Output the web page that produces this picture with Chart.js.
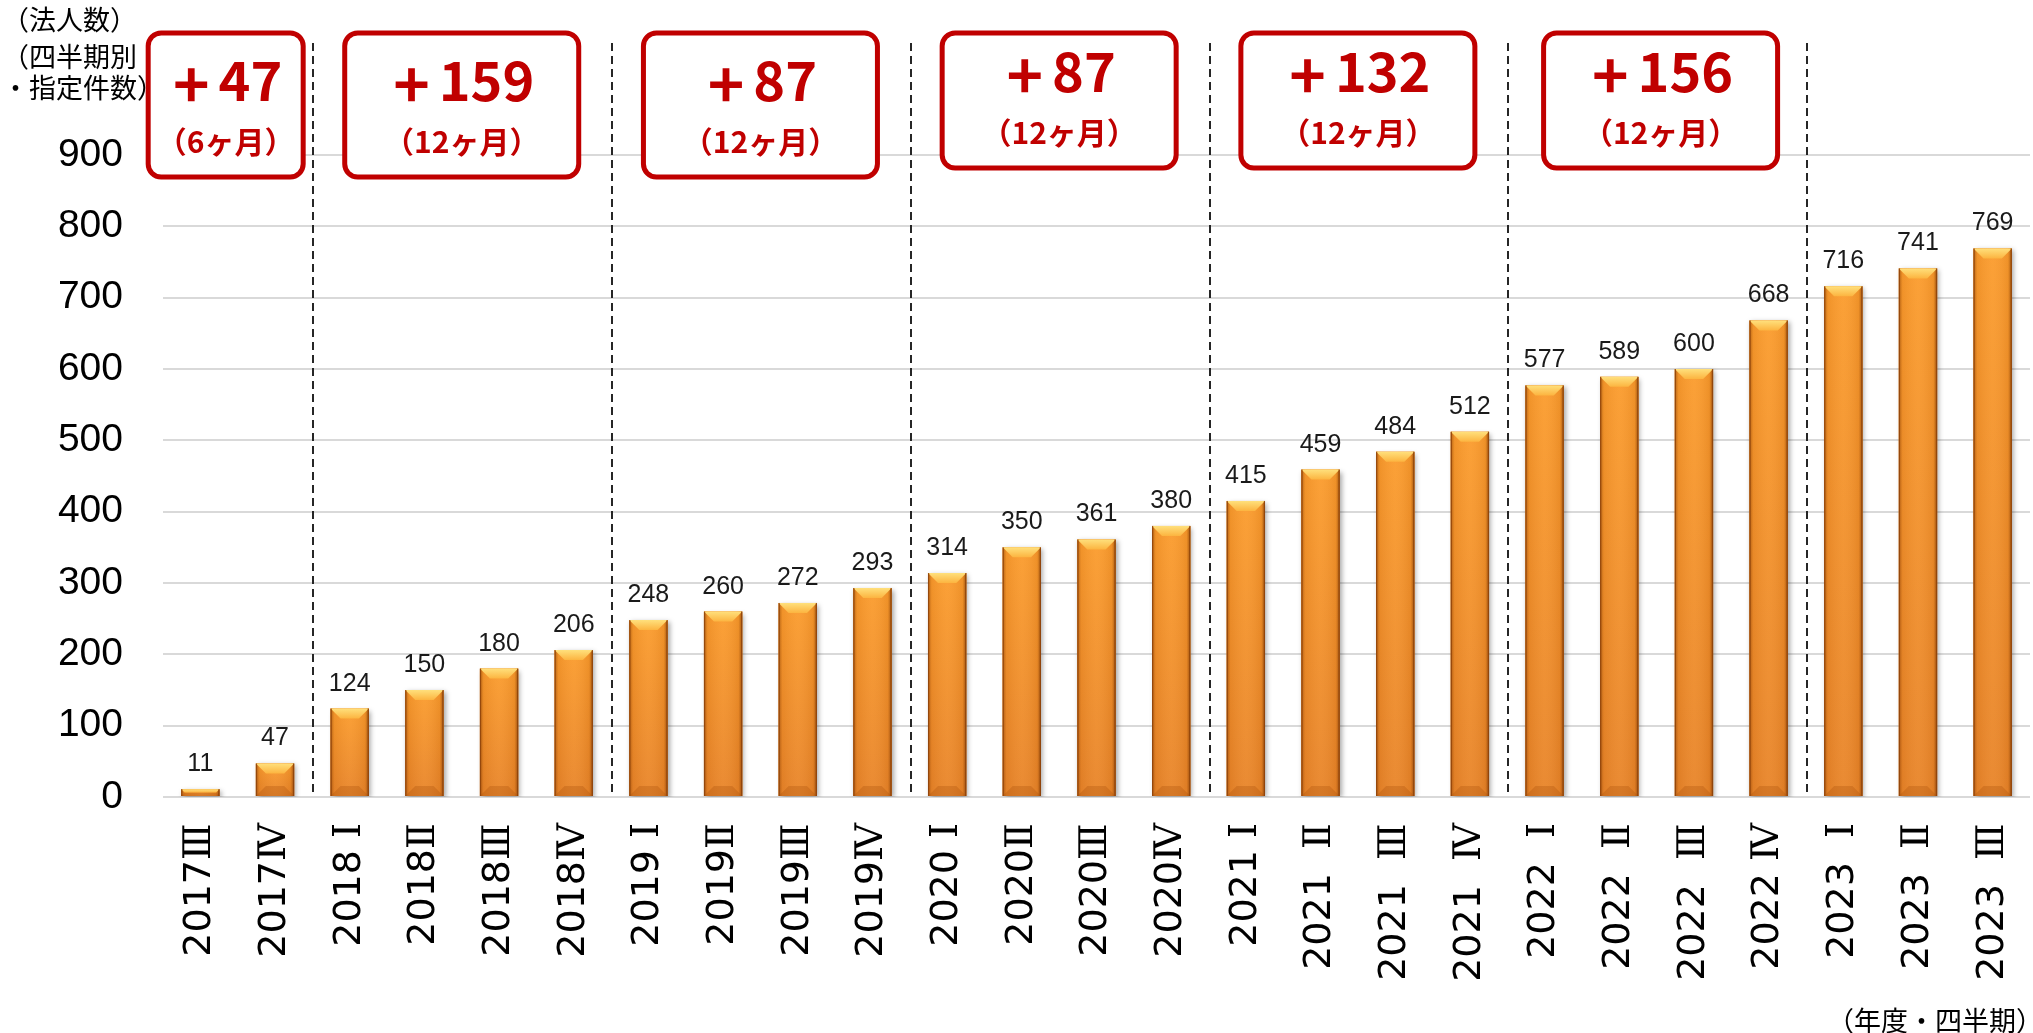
<!DOCTYPE html>
<html><head><meta charset="utf-8">
<style>
@font-face { font-family: "RomanNum"; src: local("DejaVu Serif"), local("DejaVuSerif"); unicode-range: U+2160-2188; }
html,body{margin:0;padding:0;background:#fff;}
#wrap{width:2033px;height:1033px;position:relative;}
</style>
<script src="https://cdn.jsdelivr.net/npm/chart.js@4.4.1/dist/chart.umd.min.js"></script>
</head><body><div id="wrap"><canvas id="c" width="2033" height="1033"></canvas></div>
<script>
// ---- data ----
const categories = ["2017Ⅲ","2017Ⅳ","2018 Ⅰ","2018Ⅱ","2018Ⅲ","2018Ⅳ","2019 Ⅰ","2019Ⅱ","2019Ⅲ","2019Ⅳ",
  "2020 Ⅰ","2020Ⅱ","2020Ⅲ","2020Ⅳ","2021 Ⅰ","2021  Ⅱ","2021  Ⅲ","2021  Ⅳ",
  "2022  Ⅰ","2022  Ⅱ","2022  Ⅲ","2022 Ⅳ","2023  Ⅰ","2023  Ⅱ","2023  Ⅲ"];
const values = [11,47,124,150,180,206,248,260,272,293,314,350,361,380,415,459,484,512,577,589,600,668,716,741,769];
const yTickValues = [0,100,200,300,400,500,600,700,800,900];
const groupFirst = [0,2,6,10,14,18];
const groupLast = [1,5,9,13,17,21];
const groupSign = "+";
const groupGains = ["47","159","87","87","132","156"];
const groupPeriods = ["（6ヶ月）","（12ヶ月）","（12ヶ月）","（12ヶ月）","（12ヶ月）","（12ヶ月）"];
const yAxisTitleLines = ["（法人数）","（四半期別","・指定件数）"];
const xAxisTitle = "（年度・四半期）";

const RED = "#C00000";
const CJK = '"Noto Sans CJK JP", "Noto Sans CJK SC", sans-serif';

const barStylePlugin = {
  id: 'barStyle',
  beforeDatasetsDraw(chart) {
    const ctx = chart.ctx;
    ctx.save();
    ctx.shadowColor = 'rgba(0,0,0,0.35)';
    ctx.shadowBlur = 5;
    ctx.shadowOffsetX = 2;
    ctx.shadowOffsetY = 2;
  },
  afterDatasetsDraw(chart) {
    const ctx = chart.ctx;
    ctx.restore();
    const meta = chart.getDatasetMeta(0);
    meta.data.forEach((el, i) => {
      const w = el.width, left = el.x - w / 2, right = el.x + w / 2;
      const top = el.y, bottom = el.base, h = bottom - top;
      ctx.save();
      let g = ctx.createLinearGradient(0, top, 0, bottom);
      g.addColorStop(0, '#FB9C2E'); g.addColorStop(1, '#E8842A');
      ctx.fillStyle = g; ctx.fillRect(left, top, w, h);
      let gh = ctx.createLinearGradient(left, 0, right, 0);
      gh.addColorStop(0, 'rgba(120,50,0,0.55)');
      gh.addColorStop(0.1, 'rgba(150,70,0,0.10)');
      gh.addColorStop(0.5, 'rgba(255,240,200,0.06)');
      gh.addColorStop(0.9, 'rgba(150,70,0,0.12)');
      gh.addColorStop(1, 'rgba(100,40,0,0.65)');
      ctx.fillStyle = gh; ctx.fillRect(left, top, w, h);
      const b = Math.min(10, h / 2, w / 2);
      ctx.beginPath();
      ctx.moveTo(left, bottom); ctx.lineTo(right, bottom);
      ctx.lineTo(right - b, bottom - b); ctx.lineTo(left + b, bottom - b); ctx.closePath();
      ctx.fillStyle = 'rgba(170,80,10,0.30)'; ctx.fill();
      ctx.beginPath();
      ctx.moveTo(left, top); ctx.lineTo(right, top);
      ctx.lineTo(right - b, top + b); ctx.lineTo(left + b, top + b); ctx.closePath();
      let gt = ctx.createLinearGradient(0, top, 0, top + b);
      gt.addColorStop(0, '#FFE07C'); gt.addColorStop(1, '#FCB440');
      ctx.fillStyle = gt; ctx.fill();
      ctx.fillStyle = 'rgba(140,65,10,0.8)';
      ctx.fillRect(left, top, 1.2, h);
      ctx.fillRect(right - 1.2, top, 1.2, h);
      ctx.restore();
      ctx.save();
      ctx.font = '25px "Liberation Sans", Arial, sans-serif';
      ctx.fillStyle = '#1a1a1a';
      ctx.textAlign = 'center';
      ctx.textBaseline = 'alphabetic';
      ctx.fillText(String(values[i]), el.x, top - 18);
      ctx.restore();
    });
  }
};

const annotationPlugin = {
  id: 'annot',
  afterDraw(chart) {
    const ctx = chart.ctx, xs = chart.scales.x, area = chart.chartArea;
    const boxTop = 33;
    ctx.save();
    ctx.strokeStyle = '#262626';
    ctx.lineWidth = 2;
    ctx.setLineDash([8, 5]);
    groupLast.forEach(idx => {
      const x = Math.round((xs.getPixelForValue(idx) + xs.getPixelForValue(idx + 1)) / 2 + 1);
      ctx.beginPath(); ctx.moveTo(x, boxTop + 10); ctx.lineTo(x, area.bottom); ctx.stroke();
    });
    ctx.restore();
    groupGains.forEach((txt, k) => {
      const n = groupLast[k] - groupFirst[k] + 1;
      let cx = (xs.getPixelForValue(groupFirst[k]) + xs.getPixelForValue(groupLast[k])) / 2;
      const w = n === 2 ? 155 : 234;
      if (n === 2) cx -= 12;
      if (k === 5) cx += 4;
      const bottom = k < 3 ? 177 : 168;
      const x0 = cx - w / 2, y0 = boxTop, h = bottom - boxTop, r = 13;
      ctx.save();
      ctx.beginPath();
      ctx.roundRect(x0, y0, w, h, r);
      ctx.fillStyle = '#fff'; ctx.fill();
      ctx.lineWidth = 5; ctx.strokeStyle = RED; ctx.stroke();
      ctx.fillStyle = RED;
      ctx.textBaseline = 'middle';
      const gap = 9;
      ctx.font = 'bold 62px ' + CJK;
      const wSign = ctx.measureText(groupSign).width;
      ctx.font = 'bold 54px ' + CJK;
      const wNum = ctx.measureText(txt).width;
      const start = cx + 2 - (wSign + gap + wNum) / 2;
      ctx.textAlign = 'left';
      ctx.fillText(txt, start + wSign + gap, bottom - 97);
      ctx.font = 'bold 62px ' + CJK;
      ctx.fillText(groupSign, start, bottom - 93);
      ctx.textAlign = 'center';
      ctx.font = 'bold 30px ' + CJK;
      ctx.fillText(groupPeriods[k], cx, bottom - 35);
      ctx.restore();
    });
    ctx.save();
    ctx.fillStyle = '#000';
    ctx.font = '27px ' + CJK;
    ctx.textBaseline = 'middle';
    ctx.textAlign = 'left';
    const ly = [20, 57, 88];
    yAxisTitleLines.forEach((t, i) => ctx.fillText(t, 2, ly[i]));
    ctx.textAlign = 'right';
    ctx.fillText(xAxisTitle, 2043, 1021);
    ctx.restore();
  }
};

function build() {
  new Chart(document.getElementById('c'), {
    type: 'bar',
    data: {
      labels: categories,
      datasets: [{
        data: values,
        backgroundColor: '#F59329',
        borderWidth: 0,
        categoryPercentage: 1.0,
        barPercentage: 0.513
      }]
    },
    options: {
      responsive: false,
      animation: false,
      devicePixelRatio: 1,
      layout: { padding: { top: 155, right: 3, left: 0, bottom: 0 } },
      plugins: { legend: { display: false }, tooltip: { enabled: false } },
      scales: {
        x: {
          grid: { display: false, drawTicks: false },
          border: { display: false },
          ticks: {
            autoSkip: false, minRotation: 90, maxRotation: 90, padding: 26,
            color: '#000',
            font: { family: 'RomanNum, "DejaVu Sans", "Noto Sans CJK JP", sans-serif', size: 38 }
          },
          afterFit(s) { s.height = 236; s.paddingLeft = 0; s.paddingRight = 0; }
        },
        y: {
          min: 0, max: 900,
          afterBuildTicks(s) { s.ticks = yTickValues.map(v => ({ value: v })); },
          grid: { color: '#D9D9D9', lineWidth: 2, drawTicks: false },
          border: { display: false },
          ticks: {
            padding: 40, color: '#000',
            font: { family: '"Liberation Sans", Arial, sans-serif', size: 39 }
          },
          afterFit(s) { s.width = 163; }
        }
      }
    },
    plugins: [barStylePlugin, annotationPlugin]
  });
}

const fontLoads = Promise.all([
  document.fonts.load('38px RomanNum', 'ⅠⅡⅢⅣ'),
  document.fonts.load('38px "DejaVu Sans"', '2017'),
  document.fonts.load('bold 54px "Noto Sans CJK JP"', '+47（6ヶ月）'),
  document.fonts.load('27px "Noto Sans CJK JP"', '（法人数）年度・四半期'),
  document.fonts.load('39px "Liberation Sans"', '0123456789')
]).catch(() => {});
Promise.race([fontLoads, new Promise(r => setTimeout(r, 1500))]).then(build);
</script>
</body></html>
